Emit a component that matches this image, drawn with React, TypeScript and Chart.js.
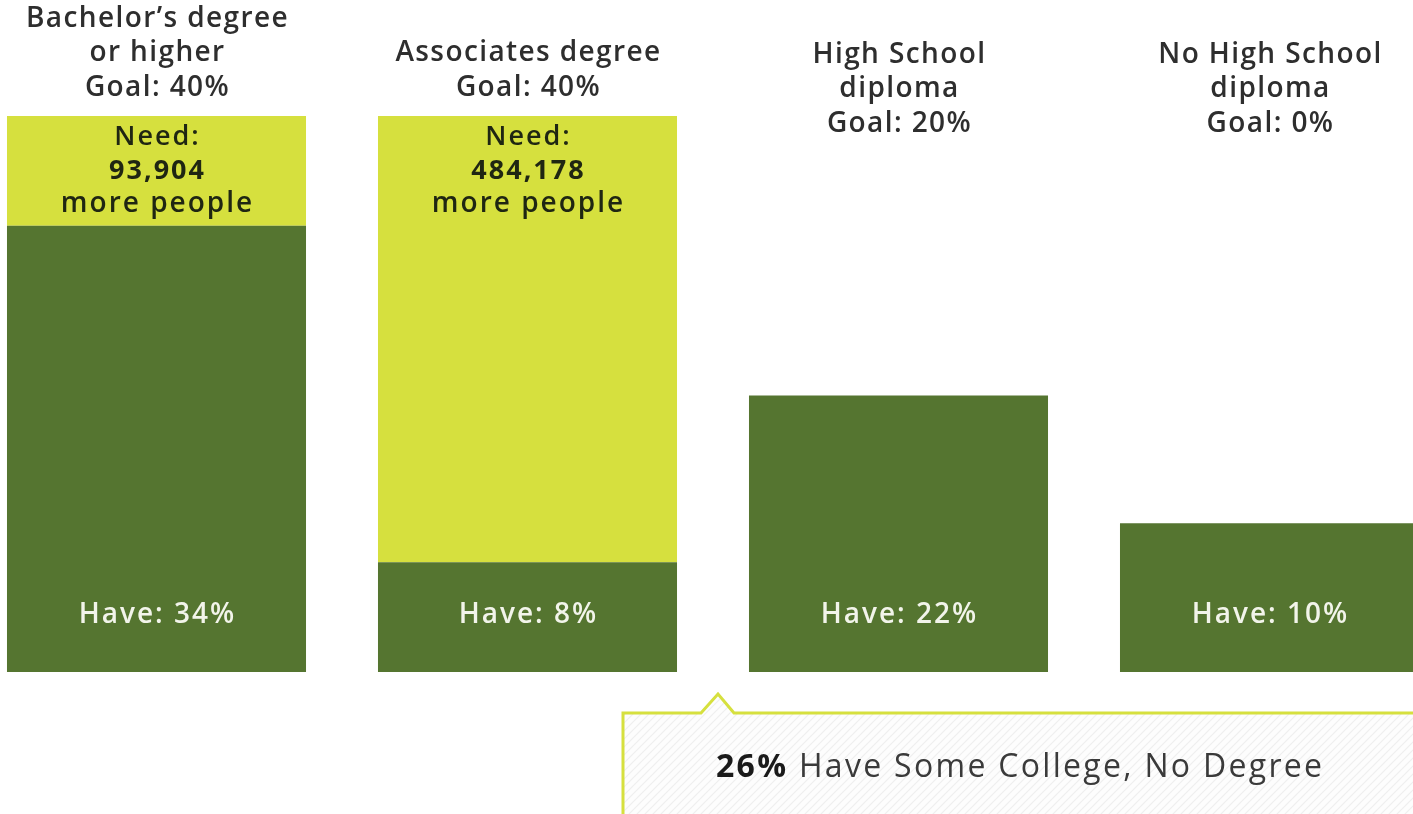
import React, { useEffect, useRef } from "react";
import { Chart, registerables } from "chart.js";

Chart.register(...registerables);

// Category titles (multi-line)
const categories: string[][] = [
  ["Bachelor’s degree", "or higher"],
  ["Associates degree"],
  ["High School", "diploma"],
  ["No High School", "diploma"],
];
const goalPct = [40, 40, 20, 0];
// Printed "Have" shares
const haveLabelPct = [34, 8, 22, 10];
// Bar heights as drawn in the original graphic (not strictly to scale with the labels)
const haveBarPct = [32.1, 7.9, 19.9, 10.7];
const needPeople = [93904, 484178, 0, 0];
const someCollegePct = 26;
const someCollegeText = "Have Some College, No Degree";

const needBarPct = goalPct.map((g, i) => (needPeople[i] > 0 ? Math.max(0, g - haveBarPct[i]) : 0));

const DARK = "#557530";
const LIGHT = "#d6e03e";
const FONT = "'Open Sans', sans-serif";

function makePattern(ctx: CanvasRenderingContext2D) {
  const c = document.createElement("canvas");
  c.width = 8;
  c.height = 8;
  const p = c.getContext("2d")!;
  p.fillStyle = "#fdfdfd";
  p.fillRect(0, 0, 8, 8);
  p.strokeStyle = "#efefef";
  p.lineWidth = 1.2;
  p.beginPath();
  p.moveTo(0, 8);
  p.lineTo(8, 0);
  p.moveTo(-4, 4);
  p.lineTo(4, -4);
  p.moveTo(4, 12);
  p.lineTo(12, 4);
  p.stroke();
  return ctx.createPattern(c, "repeat");
}

function spaced(ctx: any, px: number) {
  if ("letterSpacing" in ctx) ctx.letterSpacing = `${px}px`;
}

const labelPlugin = {
  id: "labelPlugin",
  afterDatasetsDraw(chart: any) {
    const ctx: CanvasRenderingContext2D = chart.ctx;
    const x = chart.scales.x;
    const y = chart.scales.y;
    const area = chart.chartArea;
    ctx.save();
    ctx.textAlign = "center";
    ctx.textBaseline = "middle";

    const lineH = 34.5;
    categories.forEach((cat, i) => {
      const cx = x.getPixelForValue(i) + 1;
      const lines = [...cat, `Goal: ${goalPct[i]}%`];
      const topVal = haveBarPct[i] + needBarPct[i];
      const topPx = y.getPixelForValue(topVal);
      const firstY = Math.min(area.top - 61, topPx - 28 - (lines.length - 1) * lineH);
      ctx.fillStyle = "#2e2e2e";
      ctx.font = `600 28px ${FONT}`;
      spaced(ctx, 1.4);
      lines.forEach((l, k) => ctx.fillText(l, cx, firstY + k * lineH));

      if (needBarPct[i] > 0) {
        ctx.fillStyle = "#1f2612";
        spaced(ctx, 2);
        ctx.font = `600 27px ${FONT}`;
        ctx.fillText("Need:", cx, topPx + 21);
        ctx.font = `700 27px ${FONT}`;
        ctx.fillText(needPeople[i].toLocaleString("en-US"), cx, topPx + 55);
        ctx.font = `600 28px ${FONT}`;
        ctx.fillText("more people", cx, topPx + 88);
      }

      ctx.fillStyle = "#f2f4ea";
      ctx.font = `600 28px ${FONT}`;
      spaced(ctx, 2);
      ctx.fillText(`Have: ${haveLabelPct[i]}%`, cx, area.bottom - 57);
    });

    // callout
    spaced(ctx, 0);
    const ax = (x.getPixelForValue(1) + x.getPixelForValue(2)) / 2 + 5;
    const boxTop = area.bottom + 41;
    const left = ax - 95;
    const right = chart.width + 10;
    const bottom = chart.height + 10;
    ctx.beginPath();
    ctx.moveTo(left, bottom);
    ctx.lineTo(left, boxTop);
    ctx.lineTo(ax - 17, boxTop);
    ctx.lineTo(ax, boxTop - 19);
    ctx.lineTo(ax + 16, boxTop);
    ctx.lineTo(right, boxTop);
    ctx.lineTo(right, bottom);
    ctx.closePath();
    ctx.fillStyle = makePattern(ctx) || "#fafafa";
    ctx.fill();
    ctx.strokeStyle = LIGHT;
    ctx.lineWidth = 3;
    ctx.stroke();

    ctx.textAlign = "left";
    ctx.fillStyle = "#1a1a1a";
    spaced(ctx, 2.3);
    ctx.font = `700 32px ${FONT}`;
    const bold = `${someCollegePct}%`;
    const tx = left + 93;
    const ty = boxTop + 55;
    ctx.fillText(bold, tx, ty);
    const w = ctx.measureText(bold + " ").width;
    ctx.fillStyle = "#3a3a3a";
    ctx.font = `400 32px ${FONT}`;
    ctx.fillText(someCollegeText, tx + w, ty);
    ctx.restore();
  },
};

export default function App() {
  const ref = useRef<HTMLCanvasElement>(null);
  useEffect(() => {
    document.body.style.margin = "0";
    const chart = new Chart(ref.current!, {
      type: "bar",
      data: {
        labels: categories.map((c) => c.join(" ")),
        datasets: [
          {
            label: "Have",
            data: haveBarPct,
            backgroundColor: DARK,
            stack: "s",
            barPercentage: 0.806,
            categoryPercentage: 1,
          },
          {
            label: "Need",
            data: needBarPct,
            backgroundColor: LIGHT,
            stack: "s",
            barPercentage: 0.806,
            categoryPercentage: 1,
          },
        ],
      },
      options: {
        animation: false,
        responsive: true,
        maintainAspectRatio: false,
        layout: { padding: { top: 116, bottom: 142, left: 0, right: 0 } },
        plugins: { legend: { display: false }, tooltip: { enabled: false }, title: { display: false } },
        scales: {
          x: { stacked: true, display: false, offset: true, grid: { display: false } },
          y: { stacked: true, display: false, min: 0, max: 40, grid: { display: false } },
        },
      },
      plugins: [labelPlugin],
    });
    return () => chart.destroy();
  }, []);
  return (
    <div style={{ position: "fixed", left: 0, top: 0, width: 1413, height: 814, overflow: "hidden", background: "#fff" }}>
      <div style={{ position: "absolute", left: -29, top: 0, width: 1484, height: 814 }}>
        <canvas ref={ref} />
      </div>
    </div>
  );
}
